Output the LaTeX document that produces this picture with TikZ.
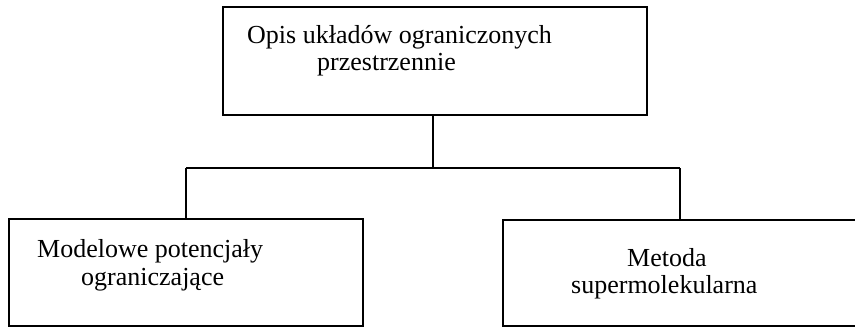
\documentclass[tikz,border=0pt]{standalone}
\usepackage{fontspec}
\setmainfont{Liberation Serif}
\begin{document}
\begin{tikzpicture}[x=1pt,y=-1pt,
  boxstyle/.style={draw=black,line width=2pt,rectangle,inner sep=0pt},
  linkstyle/.style={draw=black,line width=2pt},
  txt/.style={font=\fontsize{26}{27}\selectfont,inner sep=0pt,anchor=base west,align=left}]
\useasboundingbox (0,0) rectangle (855,327);
\clip (0,0) rectangle (855,327);
\node[boxstyle,minimum width=424pt,minimum height=108pt] (top) at (434.5,61) {};
\node[boxstyle,minimum width=354pt,minimum height=107pt] (left) at (186,272.5) {};
\node[boxstyle,minimum width=380pt,minimum height=106pt] (right) at (693,273) {};
\coordinate (j) at (433,168);
\coordinate (jl) at (186,168);
\coordinate (jr) at (680,168);
\draw[linkstyle] (top.south -| j) -- (j);
\draw[linkstyle] (jl) -- (jr);
\draw[linkstyle] (jl) -- (jl |- left.north);
\draw[linkstyle] (jr) -- (jr |- right.north);
\node[txt] (ttop1) at (247,43) {Opis układów ograniczonych};
\node[txt] (ttop2) at (317,70) {przestrzennie};
\node[txt] (tl1) at (37,257) {Modelowe potencjały};
\node[txt] (tl2) at (81,285) {ograniczające};
\node[txt] (tr1) at (627,266) {Metoda};
\node[txt] (tr2) at (571,293) {supermolekularna};
\end{tikzpicture}
\end{document}
